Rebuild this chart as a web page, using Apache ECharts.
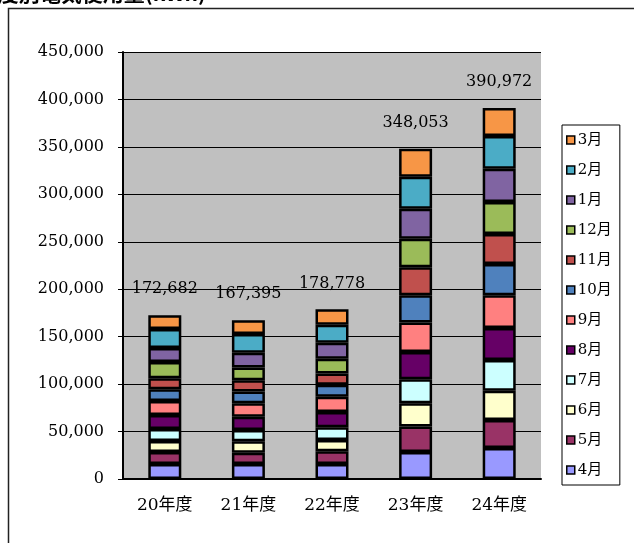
<!DOCTYPE html>
<html>
<head>
<meta charset="utf-8">
<script src="https://cdn.jsdelivr.net/npm/echarts@6/dist/echarts.min.js"></script>
<style>
  html, body { margin: 0; padding: 0; background: #fff; }
  #chart { width: 634px; height: 543px; }
</style>
</head>
<body>
<div id="chart"></div>
<script>
// カテゴリ（年度）
const years = ['20年度', '21年度', '22年度', '23年度', '24年度'];
// 月（積み上げ順：下から）
const months = ['4月', '5月', '6月', '7月', '8月', '9月', '10月', '11月', '12月', '1月', '2月', '3月'];
// 各月の値（年度順）
const m04 = [15800, 15800, 15800, 28500, 32700];
const m05 = [12600, 11900, 13400, 26700, 29500];
const m06 = [11600, 12000, 11900, 24600, 30900];
const m07 = [12600, 11900, 13400, 25300, 32300];
const m08 = [14800, 14000, 16100, 28800, 33700];
const m09 = [14700, 14100, 16100, 30900, 34500];
const m10 = [12600, 12600, 12600, 28900, 33000];
const m11 = [11600, 11900, 12000, 29500, 31600];
const m12 = [16900, 13400, 15400, 30100, 33700];
const m01 = [14800, 15400, 16900, 31600, 35100];
const m02 = [20000, 19700, 19000, 33700, 34500];
const m03 = [14682, 14695, 16178, 29353, 29472];
// 合計ラベル
const totals = [172682, 167395, 178778, 348053, 390972];
// 目盛
const yMax = 450000;
const yStep = 50000;

const monthData = [m04, m05, m06, m07, m08, m09, m10, m11, m12, m01, m02, m03];
const colors = ['#9999FF', '#993366', '#FFFFCC', '#CCFFFF', '#660066', '#FF8080',
                '#4F81BD', '#C0504D', '#9BBB59', '#8064A2', '#4BACC6', '#F79646'];

const serif = '"DejaVu Serif", "Noto Sans CJK JP", serif';
const fmt = v => v.toString().replace(/\B(?=(\d{3})+(?!\d))/g, ',');

const chart = echarts.init(document.getElementById('chart'), null, { renderer: 'canvas' });

const series = months.map((name, i) => {
    const s = {
        name: name,
        type: 'bar',
        stack: 'total',
        data: monthData[i],
        barWidth: 33,
        itemStyle: { color: colors[i], borderColor: '#000', borderWidth: 2.5 }
    };
    if (i === months.length - 1) {
        s.label = {
            show: true,
            position: 'top',
            distance: 18,
            color: '#000',
            fontFamily: serif,
            fontSize: 16,
            formatter: p => fmt(totals[p.dataIndex])
        };
    }
    return s;
});

const option = {
    animation: false,
    backgroundColor: '#fff',
    graphic: [
        {
            type: 'rect',
            shape: { x: 8.5, y: 8.5, width: 700, height: 600 },
            style: { fill: 'none', stroke: '#222', lineWidth: 1.5 },
            z: 0
        },
        {
            type: 'text',
            right: 428,
            top: -17,
            style: {
                text: '年度別電気使用量(kWh)',
                font: 'bold 21px "Noto Sans CJK JP"',
                fill: '#000'
            }
        }
    ],
    legend: {
        orient: 'vertical',
        left: 562,
        top: 125,
        data: months.slice().reverse(),
        icon: 'rect',
        itemWidth: 8,
        itemHeight: 8,
        itemGap: 14,
        padding: [7, 8, 7, 4],
        backgroundColor: '#fff',
        borderColor: '#000',
        borderWidth: 1,
        itemStyle: { borderWidth: 1.5, borderColor: '#000' },
        textStyle: { fontFamily: serif, fontSize: 15, color: '#000', lineHeight: 16, padding: [0, 0, 0, -2] }
    },
    grid: {
        left: 123, top: 52, width: 418, height: 427,
        show: true, backgroundColor: '#C0C0C0', borderWidth: 0
    },
    xAxis: {
        type: 'category',
        data: years,
        axisLine: { lineStyle: { color: '#000', width: 2 } },
        axisTick: { inside: true, length: 6, lineStyle: { color: '#000' } },
        axisLabel: { color: '#000', fontFamily: serif, fontSize: 17, margin: 18 }
    },
    yAxis: {
        type: 'value',
        min: 0,
        max: yMax,
        interval: yStep,
        axisLine: { show: true, lineStyle: { color: '#000', width: 2 } },
        axisTick: { show: true, length: 5, lineStyle: { color: '#000' } },
        splitLine: { lineStyle: { color: '#000', width: 1 } },
        axisLabel: { color: '#000', fontFamily: serif, fontSize: 16, margin: 19, formatter: v => fmt(v) }
    },
    series: series
};

chart.setOption(option);
</script>
</body>
</html>
